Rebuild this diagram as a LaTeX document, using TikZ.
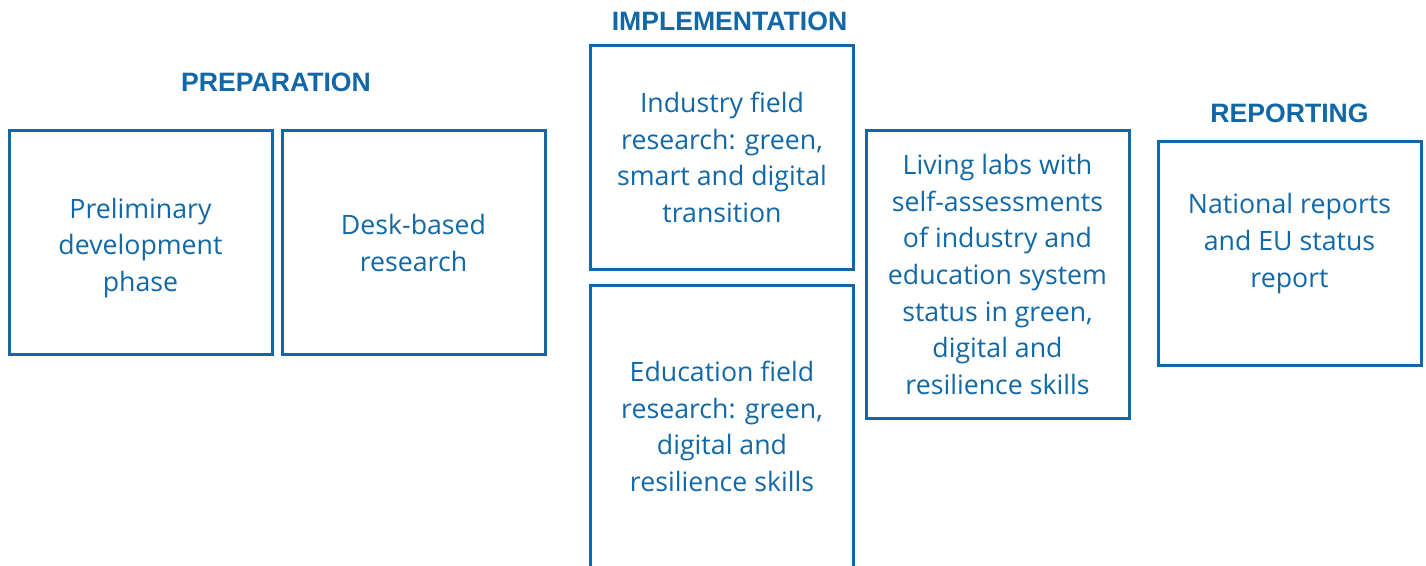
\documentclass[tikz,border=0pt]{standalone}
\usepackage{fontspec}
\setmainfont{Open Sans}
\newfontfamily\headfont{Liberation Sans}
\usetikzlibrary{positioning}
\definecolor{planblue}{RGB}{18,104,166}

\begin{document}
\begin{tikzpicture}[
    x=0.5pt, y=-0.5pt,
    every node/.style={align=center, text=planblue},
    txt/.style={font=\fontsize{13.35pt}{18.35pt}\selectfont},
    phase/.style={font=\headfont\bfseries\fontsize{13.3pt}{16pt}\selectfont, anchor=base},
    stage/.style={rectangle, draw=planblue, line width=1.5pt, txt, minimum width=131.5pt, minimum height=112pt, inner sep=2pt}
]
\useasboundingbox (0,0) rectangle (1426,566);
\clip (0,0) rectangle (1426,566);

% preparation
\node[stage, label={[txt, yshift=-2.5pt]center:{Preliminary\\development\\phase}}] (prel) at (140.5,243) {};
\node[stage, right=3.5pt of prel] (desk) {Desk-based\\research};
\node[phase] (prep) at (276,92) {PREPARATION};

% implementation
\node[stage] (ind) at (722,157.5) {Industry field\\research: green,\\smart and digital\\transition};
\node[stage, minimum height=141pt, below=6.5pt of ind] (edu) {Education field\\research: green,\\digital and\\resilience skills};
\node[stage, minimum height=144pt] (liv) at (997.5,274.5) {Living labs with\\self-assessments\\of industry and\\education system\\status in green,\\digital and\\resilience skills};
\node[phase] (impl) at (729.5,31) {IMPLEMENTATION};

% reporting
\node[stage, label={[txt, yshift=5pt]center:{National reports\\and EU status\\report}}] (nat) at (1289.5,253.5) {};
\node[phase] (rep) at (1289.5,123) {REPORTING};
\end{tikzpicture}
\end{document}
